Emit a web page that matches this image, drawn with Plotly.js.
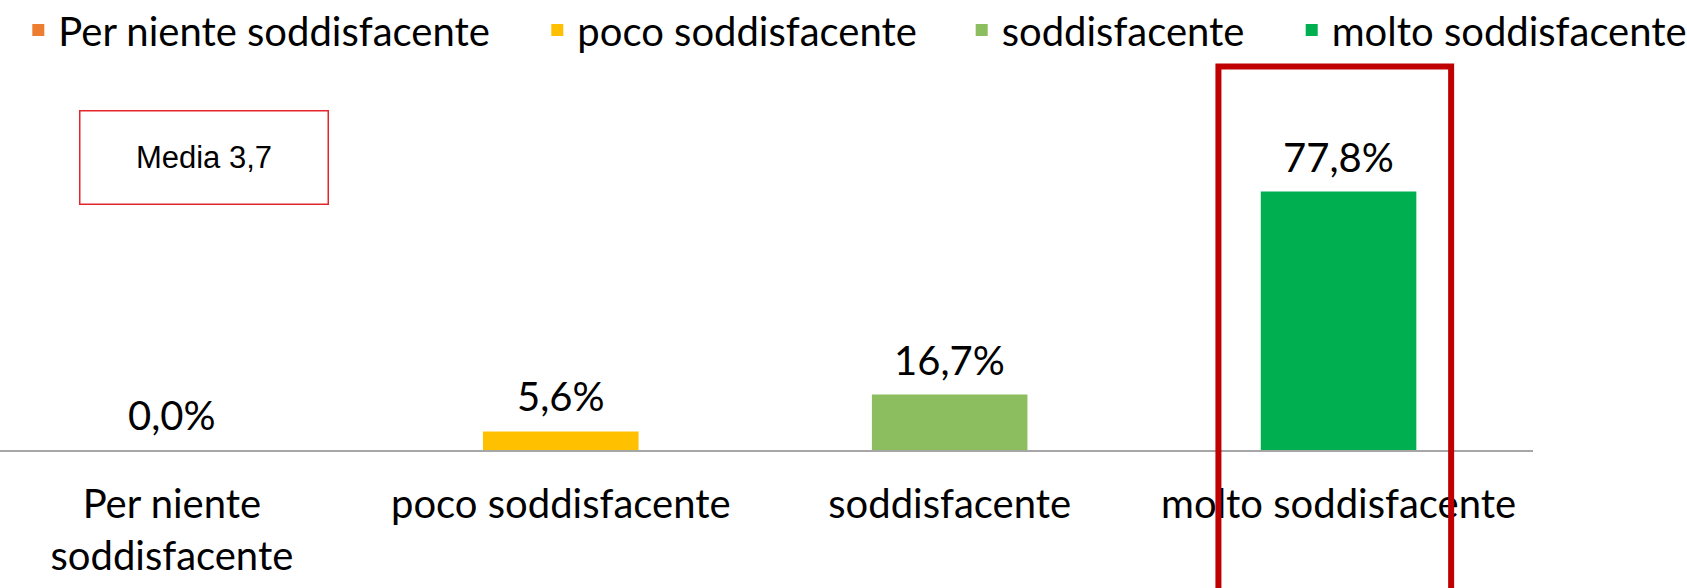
<!DOCTYPE html>
<html>
<head>
<meta charset="utf-8">
<script src="https://cdn.plot.ly/plotly-3.0.1.min.js"></script>
<style>html,body{margin:0;padding:0;background:#fff;}#chart{width:1687px;height:588px;}</style>
</head>
<body>
<div id="chart"></div>
<script>
const categories = ["Per niente soddisfacente", "poco soddisfacente", "soddisfacente", "molto soddisfacente"];
const tickLabels = ["Per niente<br>soddisfacente", "poco soddisfacente", "soddisfacente", "molto soddisfacente"];
const values = [0.0, 5.6, 16.7, 77.8];
const colors = ["#ED7D31", "#FFC000", "#8CBD5E", "#00B050"];
const meanLabel = "Media 3,7";

const FONT = "Lato, 'Open Sans', sans-serif";
const W = 1687, H = 588;

// legend entry text start positions (px from left), one legend per series
const legendTextX = [58.3, 577.3, 1001.7, 1331.7];
const legendIds = ["legend", "legend2", "legend3", "legend4"];

const traces = categories.map((c, i) => ({
  type: "bar",
  name: c,
  x: [c],
  y: [values[i]],
  width: 0.4,
  marker: {color: colors[i]},
  legend: legendIds[i],
  hoverinfo: "skip"
}));

const fmt = v => v.toFixed(1).replace(".", ",") + "%";

const annotations = categories.map((c, i) => ({
  x: c, y: values[i], xref: "x", yref: "y",
  text: fmt(values[i]), showarrow: false,
  yanchor: "middle", yshift: 35,
  font: {family: FONT, size: 40, color: "#000"}
}));

annotations.push({
  xref: "paper", yref: "paper", x: 0.1329, y: 0.749,
  xanchor: "center", yanchor: "middle",
  text: meanLabel, showarrow: false,
  width: 245, height: 90,
  bordercolor: "#E3242B", borderwidth: 1.5, borderpad: 1,
  bgcolor: "#fff",
  font: {family: "'Liberation Sans', Arial, sans-serif", size: 31, color: "#000"}
});

const layout = {
  width: W, height: H,
  margin: {l: 0, r: 154, t: 60, b: 137.5, autoexpand: false},
  paper_bgcolor: "#fff", plot_bgcolor: "#fff",
  barmode: "overlay",
  showlegend: true,
  xaxis: {
    type: "category",
    range: [-0.442, 3.5],
    tickvals: categories, ticktext: tickLabels,
    showline: true, linecolor: "#A6A6A6", linewidth: 1.5,
    showgrid: false, zeroline: false, ticks: "",
    ticklabelstandoff: 18,
    tickfont: {family: FONT, size: 40, color: "#000"},
    fixedrange: true
  },
  yaxis: {
    range: [0, 117.4],
    visible: false, showgrid: false, zeroline: false,
    fixedrange: true
  },
  annotations: annotations,
  shapes: [{
    type: "rect", xref: "paper", yref: "paper",
    x0: 0.7948, x1: 0.9466, y0: -0.4, y1: 0.9834,
    line: {color: "#C00000", width: 6},
    fillcolor: "rgba(0,0,0,0)", layer: "above"
  }]
};

legendIds.forEach((id, i) => {
  layout[id] = {
    orientation: "h",
    xref: "container", yref: "container",
    x: (legendTextX[i] - 40) / W, xanchor: "left",
    y: 1 - 30 / H, yanchor: "middle",
    bgcolor: "rgba(0,0,0,0)",
    font: {family: FONT, size: 40, color: "#000"}
  };
});

Plotly.newPlot("chart", traces, layout, {displayModeBar: false, staticPlot: true});
</script>
</body>
</html>
